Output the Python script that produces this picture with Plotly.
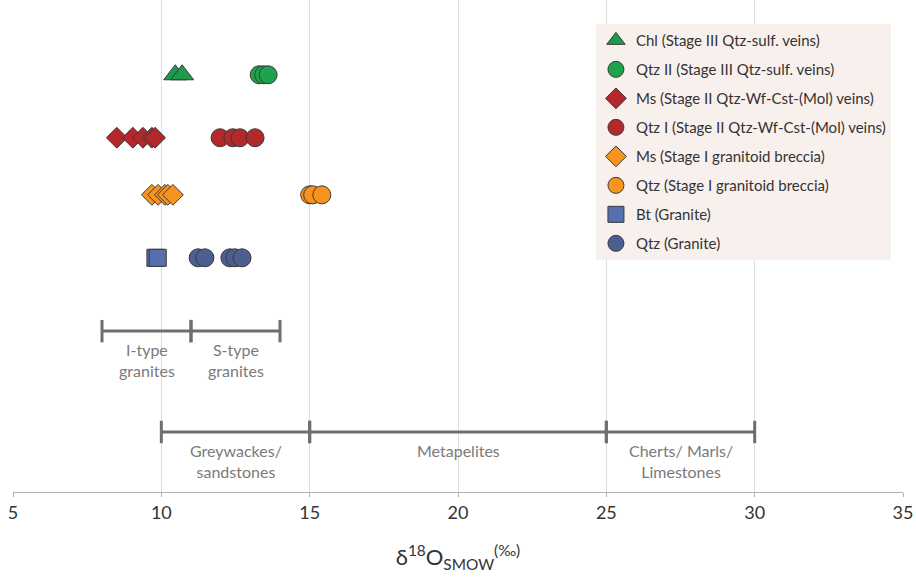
import plotly.graph_objects as go

# δ18O values (‰ SMOW) per mineral / stage
chl_stage3 = [10.47, 10.70]
qtz2_stage3 = [13.30, 13.45, 13.60]
ms_stage2 = [8.50, 9.04, 9.38, 9.68, 9.79]
qtz1_stage2 = [11.98, 12.41, 12.65, 13.16]
ms_stage1 = [9.68, 9.89, 10.12, 10.22, 10.39]
qtz_stage1 = [15.00, 15.10, 15.41]
bt_granite = [9.80, 9.88]
qtz_granite = [11.24, 11.47, 12.31, 12.48, 12.72]

# vertical row levels for each sample group
row_stage3 = 8.48
row_stage2 = 7.20
row_stage1 = 6.04
row_granite = 4.76

# reference reservoir ranges (‰)
granite_ranges = [("I-type<br>granites", 8, 11), ("S-type<br>granites", 11, 14)]
rock_ranges = [("Greywackes/<br>sandstones", 10, 15), ("Metapelites", 15, 25),
               ("Cherts/ Marls/<br>Limestones", 25, 30)]
row_granite_ranges = 3.27
row_rock_ranges = 1.22

series = [
    ("Chl (Stage III Qtz-sulf. veins)", chl_stage3, row_stage3, "triangle-up", "#1e9a4c", 20),
    ("Qtz II (Stage III Qtz-sulf. veins)", qtz2_stage3, row_stage3, "circle", "#1ea24c", 18),
    ("Ms (Stage II Qtz-Wf-Cst-(Mol) veins)", ms_stage2, row_stage2, "diamond", "#b3282b", 16),
    ("Qtz I (Stage II Qtz-Wf-Cst-(Mol) veins)", qtz1_stage2, row_stage2, "circle", "#b3282b", 18),
    ("Ms (Stage I granitoid breccia)", ms_stage1, row_stage1, "diamond", "#f7931e", 16),
    ("Qtz (Stage I granitoid breccia)", qtz_stage1, row_stage1, "circle", "#f7931e", 18),
    ("Bt (Granite)", bt_granite, row_granite, "square", "#5670ad", 17),
    ("Qtz (Granite)", qtz_granite, row_granite, "circle", "#4c5f90", 18),
]

fig = go.Figure()
bar_color = "#6e6e6e"
text_color = "#7a7a7a"
font_family = "Lato, Open Sans, sans-serif"

annotations = []
for ranges, row in [(granite_ranges, row_granite_ranges), (rock_ranges, row_rock_ranges)]:
    for label, x0, x1 in ranges:
        fig.add_trace(go.Scatter(
            x=[x0, x1], y=[row, row], mode="lines+markers",
            line=dict(color=bar_color, width=3),
            marker=dict(symbol="line-ns", size=16, line=dict(color=bar_color, width=3)),
            showlegend=False, hoverinfo="skip"))
        annotations.append(dict(
            x=(x0 + x1) / 2, y=row, xref="x", yref="y", text=label,
            showarrow=False, yanchor="top", yshift=-7,
            font=dict(family=font_family, size=16, color=text_color)))

for i, (name, xs, row, sym, col, size) in enumerate(series):
    fig.add_trace(go.Scatter(
        x=xs, y=[row] * len(xs), mode="markers", name=name,
        legendgroup=f"g{i}",
        marker=dict(symbol=sym, size=size, color=col,
                    line=dict(color="#3a3a3a", width=1))))

fig.update_layout(
    width=916, height=585,
    margin=dict(l=13, r=13, t=0, b=93),
    paper_bgcolor="white", plot_bgcolor="white",
    font=dict(family=font_family, color="#333333"),
    annotations=annotations,
    legend=dict(
        x=0.655, y=0.951, xanchor="left", yanchor="top",
        bgcolor="#f8f0ed", borderwidth=0,
        font=dict(size=15, color="#333333"),
        tracegroupgap=6.5),
    xaxis=dict(
        range=[5, 35], dtick=5, showgrid=True, gridcolor="#dedede", gridwidth=1,
        showline=True, linecolor="#b0b0b0", linewidth=1,
        ticks="outside", ticklen=4, tickcolor="#b0b0b0",
        tickfont=dict(size=18, color="#333333"),
        zeroline=False,
        title=dict(text="δ<sup>18</sup>O<sub>SMOW</sub><sup>(‰)</sup>",
                   font=dict(size=22, color="#333333"), standoff=28)),
    yaxis=dict(range=[0, 10], visible=False, showgrid=False, zeroline=False),
)

fig.write_html("out.html")
